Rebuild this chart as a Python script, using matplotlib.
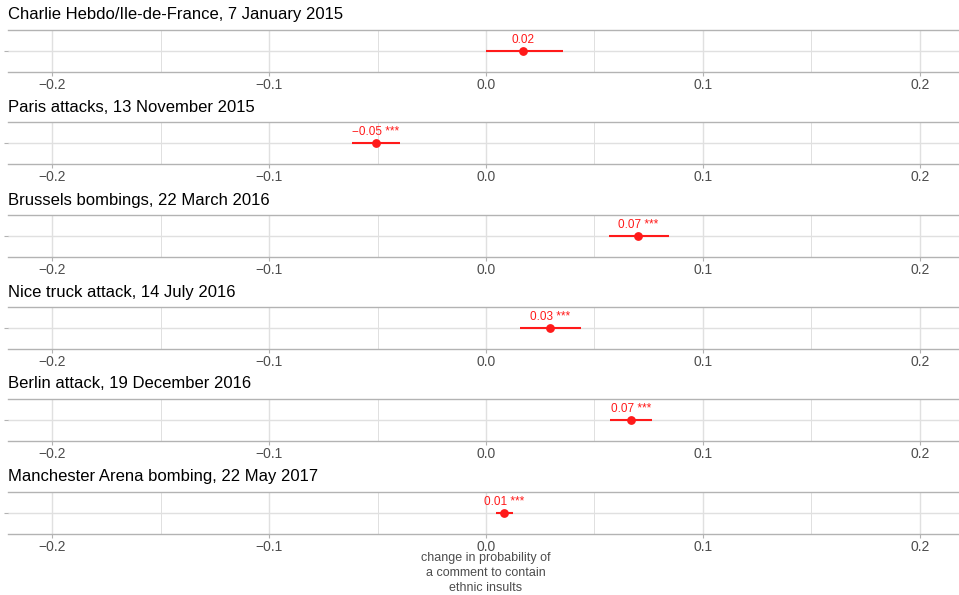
import numpy as np
import matplotlib.pyplot as plt

plt.rcParams['font.family'] = ['Liberation Sans', 'DejaVu Sans']

# Event estimates
events = [
    "Charlie Hebdo/Ile-de-France, 7 January 2015",
    "Paris attacks, 13 November 2015",
    "Brussels bombings, 22 March 2016",
    "Nice truck attack, 14 July 2016",
    "Berlin attack, 19 December 2016",
    "Manchester Arena bombing, 22 May 2017",
]
estimates = [0.017, -0.0507, 0.070, 0.0295, 0.0668, 0.0083]
ci_low = [0.0, -0.0618, 0.0567, 0.0157, 0.0571, 0.0046]
ci_high = [0.0355, -0.0396, 0.0843, 0.0438, 0.0765, 0.0124]
labels = ["0.02", "\u22120.05 ***", "0.07 ***", "0.03 ***", "0.07 ***", "0.01 ***"]

ticks = [-0.2, -0.1, 0.0, 0.1, 0.2]
tick_labels = ["\u22120.2", "\u22120.1", "0.0", "0.1", "0.2"]
minor_ticks = [-0.15, -0.05, 0.05, 0.15]

W, H = 959, 595
fig = plt.figure(figsize=(W / 100, H / 100), dpi=100)

red = "#FF1A1A"
grid_col = "#E0E0E0"
border_col = "#B3B3B3"

panel_tops = [30, 122, 215, 307, 399, 492]
panel_h = 42
x0, x1 = 8, 959

for i, ev in enumerate(events):
    top = panel_tops[i]
    ax = fig.add_axes([x0 / W, 1 - (top + panel_h) / H, (x1 - x0) / W, panel_h / H])
    ax.set_xlim(-0.2203, 0.218)
    ax.set_ylim(0, 1)
    ax.set_xticks(ticks)
    ax.set_xticklabels(tick_labels)
    ax.set_xticks(minor_ticks, minor=True)
    ax.set_yticks([0.5])
    ax.set_yticklabels([])
    ax.grid(True, which="major", color=grid_col, lw=1.0)
    ax.grid(True, which="minor", axis="x", color=grid_col, lw=0.7)
    ax.set_axisbelow(True)
    for s in ["left", "right"]:
        ax.spines[s].set_visible(False)
    for s in ["top", "bottom"]:
        ax.spines[s].set_color(border_col)
        ax.spines[s].set_linewidth(1.0)
    ax.tick_params(axis="x", which="major", length=3, color=border_col,
                   labelsize=10, labelcolor="#4D4D4D", pad=1)
    ax.tick_params(axis="x", which="minor", length=0)
    ax.tick_params(axis="y", length=3, color=border_col)

    ax.plot([ci_low[i], ci_high[i]], [0.5, 0.5], color=red, lw=1.5, solid_capstyle="butt")
    ax.plot(estimates[i], 0.5, "o", color=red, ms=5.3)
    ax.text(estimates[i], 0.62, labels[i], color=red, ha="center", va="bottom", fontsize=8.5)

    fig.text(x0 / W, 1 - (top - 15) / H, ev, ha="left", va="center", fontsize=12, color="black")

fig.text(486 / W, 1 - 573 / H, "change in probability of\na comment to contain\nethnic insults",
         ha="center", va="center", fontsize=9, color="#4D4D4D", linespacing=1.3)

fig.savefig("out.png", dpi=100, facecolor="white")
